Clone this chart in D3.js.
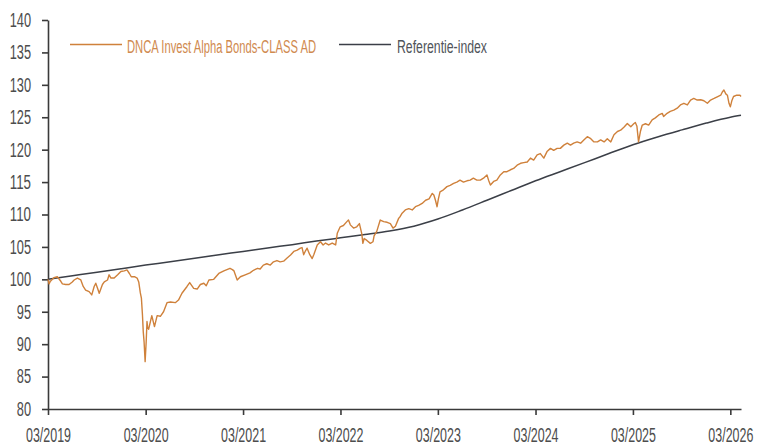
<!DOCTYPE html>
<html lang="nl">
<head>
<meta charset="utf-8">
<style>
  body { margin: 0; background: #fff; }
  svg text { font-family: "Liberation Sans Narrow", "Liberation Sans", Arial, sans-serif; }
</style>
</head>
<body>
<div id="chart"></div>
<script src="https://cdn.jsdelivr.net/npm/d3@7"></script>
<script>

var W = 757, H = 443;

var seriesNames = ["DNCA Invest Alpha Bonds-CLASS AD", "Referentie-index"];
var seriesColors = ["#cf813b", "#3b3f47"];

var yTicks = [80, 85, 90, 95, 100, 105, 110, 115, 120, 125, 130, 135, 140];
var xTickDates = ["2019-03-01", "2020-03-01", "2021-03-01", "2022-03-01",
                  "2023-03-01", "2024-03-01", "2025-03-01", "2026-03-01"];

// referentie-index, per kwartaal
var indexData = [
  ["2019-03-01", 100.0], ["2019-06-01", 100.55], ["2019-09-01", 101.1], ["2019-12-01", 101.65],
  ["2020-03-01", 102.2], ["2020-06-01", 102.7], ["2020-09-01", 103.25], ["2020-12-01", 103.8],
  ["2021-03-01", 104.3], ["2021-06-01", 104.85], ["2021-09-01", 105.35], ["2021-12-01", 105.9],
  ["2022-03-01", 106.4], ["2022-06-01", 106.9], ["2022-09-01", 107.45], ["2022-12-01", 108.2],
  ["2023-03-01", 109.3], ["2023-06-01", 110.7], ["2023-09-01", 112.2], ["2023-12-01", 113.7],
  ["2024-03-01", 115.2], ["2024-06-01", 116.6], ["2024-09-01", 118.0], ["2024-12-01", 119.4],
  ["2025-03-01", 120.75], ["2025-06-01", 121.95], ["2025-09-01", 123.05], ["2025-12-01", 124.1],
  ["2026-03-01", 125.0], ["2026-04-10", 125.3]
];

// fonds
var fundData = [
  ["2019-03-01",100.0],["2019-03-05",99.3],["2019-03-10",99.7],["2019-03-23",100.25],
  ["2019-04-05",100.4],["2019-04-18",99.7],["2019-04-24",99.3],["2019-05-06",99.2],
  ["2019-05-19",99.2],["2019-05-31",99.6],["2019-06-07",99.9],["2019-06-19",100.2],
  ["2019-07-02",99.9],["2019-07-11",98.9],["2019-07-20",98.35],["2019-08-02",98.1],
  ["2019-08-12",97.6],["2019-08-21",98.9],["2019-08-27",99.4],["2019-09-03",98.6],
  ["2019-09-09",97.85],["2019-09-21",99.2],["2019-09-28",99.6],["2019-10-10",99.9],
  ["2019-10-16",100.7],["2019-10-23",100.2],["2019-11-04",100.2],["2019-11-17",100.7],
  ["2019-11-29",101.2],["2019-12-12",101.3],["2019-12-22",101.45],["2019-12-31",100.9],
  ["2020-01-07",100.4],["2020-01-19",100.4],["2020-01-29",100.2],["2020-02-04",99.6],
  ["2020-02-10",97.9],["2020-02-14",97.1],["2020-02-18",94.5],["2020-02-21",91.9],
  ["2020-02-24",90.4],["2020-02-28",87.3],["2020-03-03",90.4],["2020-03-06",93.5],
  ["2020-03-08",92.7],["2020-03-12",92.3],["2020-03-24",94.4],["2020-04-03",92.7],
  ["2020-04-13",94.4],["2020-04-25",94.3],["2020-05-07",95.0],["2020-05-20",96.4],
  ["2020-06-02",96.5],["2020-06-20",96.4],["2020-07-02",96.8],["2020-07-15",97.85],
  ["2020-08-03",98.9],["2020-08-13",99.5],["2020-08-28",98.6],["2020-09-10",98.5],
  ["2020-09-22",99.2],["2020-10-05",99.4],["2020-10-14",99.0],["2020-10-24",99.9],
  ["2020-11-11",100.0],["2020-11-30",100.9],["2020-12-19",101.3],["2021-01-11",101.7],
  ["2021-01-20",101.5],["2021-01-26",101.3],["2021-02-07",99.9],["2021-02-19",100.4],
  ["2021-03-09",100.7],["2021-03-27",101.0],["2021-04-09",101.4],["2021-04-24",101.7],
  ["2021-05-04",101.6],["2021-05-16",102.2],["2021-05-29",102.4],["2021-06-11",102.2],
  ["2021-06-23",102.7],["2021-07-06",102.9],["2021-07-18",102.7],["2021-07-31",102.8],
  ["2021-08-13",103.3],["2021-08-26",103.75],["2021-09-07",104.3],["2021-09-20",104.5],
  ["2021-10-02",104.8],["2021-10-08",104.9],["2021-10-14",103.8],["2021-10-21",104.4],
  ["2021-10-27",104.8],["2021-11-06",103.8],["2021-11-15",103.2],["2021-11-21",103.8],
  ["2021-12-04",105.3],["2021-12-16",105.8],["2021-12-26",105.3],["2022-01-04",105.6],
  ["2022-01-16",105.3],["2022-01-29",105.6],["2022-02-11",105.3],["2022-02-17",107.1],
  ["2022-02-28",108.1],["2022-03-12",108.3],["2022-03-25",108.9],["2022-03-31",109.15],
  ["2022-04-07",108.4],["2022-04-19",107.9],["2022-05-01",108.1],["2022-05-11",108.6],
  ["2022-05-20",107.0],["2022-05-24",105.55],["2022-05-29",106.3],["2022-06-08",106.0],
  ["2022-06-21",105.55],["2022-07-01",105.8],["2022-07-05",106.7],["2022-07-15",107.4],
  ["2022-07-28",109.15],["2022-08-10",108.9],["2022-08-23",108.8],["2022-09-04",108.6],
  ["2022-09-14",107.9],["2022-09-23",108.2],["2022-10-05",109.4],["2022-10-11",109.7],
  ["2022-10-18",110.2],["2022-10-30",110.7],["2022-11-12",110.9],["2022-11-25",110.7],
  ["2022-12-07",111.2],["2022-12-19",111.4],["2023-01-01",111.7],["2023-01-14",112.2],
  ["2023-01-27",112.4],["2023-02-08",113.25],["2023-02-14",113.0],["2023-02-20",112.2],
  ["2023-02-26",111.2],["2023-03-03",112.4],["2023-03-09",113.5],["2023-03-22",113.8],
  ["2023-04-04",114.3],["2023-04-16",114.5],["2023-04-29",114.8],["2023-05-11",115.0],
  ["2023-05-23",115.3],["2023-06-05",115.0],["2023-06-18",115.2],["2023-06-30",115.3],
  ["2023-07-12",115.6],["2023-07-25",115.3],["2023-08-07",115.3],["2023-08-19",115.6],
  ["2023-09-01",116.1],["2023-09-07",115.3],["2023-09-14",114.55],["2023-09-26",115.1],
  ["2023-10-08",115.3],["2023-10-21",116.1],["2023-11-03",116.6],["2023-11-15",116.6],
  ["2023-11-28",116.9],["2023-12-10",117.1],["2023-12-23",117.6],["2024-01-05",117.9],
  ["2024-01-17",118.0],["2024-01-30",118.1],["2024-02-11",118.7],["2024-02-23",118.4],
  ["2024-03-07",119.2],["2024-03-19",119.4],["2024-04-01",118.7],["2024-04-13",119.7],
  ["2024-04-26",120.2],["2024-05-08",119.9],["2024-05-21",120.2],["2024-06-02",120.2],
  ["2024-06-15",120.7],["2024-06-28",121.0],["2024-07-10",120.7],["2024-07-22",121.0],
  ["2024-08-04",121.2],["2024-08-17",121.0],["2024-08-29",121.5],["2024-09-11",122.0],
  ["2024-09-24",121.7],["2024-10-06",121.2],["2024-10-19",121.2],["2024-10-31",121.5],
  ["2024-11-13",121.2],["2024-11-25",121.7],["2024-12-08",121.2],["2024-12-20",122.3],
  ["2025-01-02",122.8],["2025-01-14",123.0],["2025-01-27",123.5],["2025-02-08",124.05],
  ["2025-02-21",123.55],["2025-03-04",124.0],["2025-03-10",124.2],["2025-03-16",123.6],
  ["2025-03-22",121.2],["2025-03-29",122.8],["2025-04-05",123.8],["2025-04-17",124.0],
  ["2025-04-29",123.8],["2025-05-12",124.6],["2025-05-24",124.9],["2025-06-06",125.35],
  ["2025-06-19",125.6],["2025-06-24",125.1],["2025-07-07",125.6],["2025-07-19",125.9],
  ["2025-08-01",126.1],["2025-08-14",126.4],["2025-08-26",126.9],["2025-09-08",127.15],
  ["2025-09-21",126.9],["2025-10-03",127.65],["2025-10-15",127.9],["2025-10-28",127.65],
  ["2025-11-10",127.7],["2025-11-22",127.55],["2025-12-05",127.15],["2025-12-17",127.65],
  ["2025-12-30",127.9],["2026-01-11",128.15],["2026-01-24",128.4],["2026-01-30",128.9],
  ["2026-02-05",129.2],["2026-02-12",128.6],["2026-02-18",128.4],["2026-02-24",127.15],
  ["2026-03-01",126.6],["2026-03-07",127.6],["2026-03-13",128.2],["2026-03-25",128.4],
  ["2026-04-06",128.4],["2026-04-10",128.2]
];

var parse = d3.timeParse("%Y-%m-%d");

var x = d3.scaleTime()
  .domain([parse("2019-03-01"), parse("2026-04-10")])
  .range([48, 741]);

var y = d3.scaleLinear()
  .domain([80, 140])
  .range([409, 20]);

var svg = d3.select("#chart").append("svg")
  .attr("width", W)
  .attr("height", H);

var axisColor = "#3a3a3a", labelColor = "#4d4d4d";

// y-as
var gy = svg.append("g")
  .attr("transform", "translate(48,0)")
  .call(d3.axisLeft(y).tickValues(yTicks).tickSize(6).tickSizeOuter(0).tickPadding(11));

gy.selectAll("text")
  .attr("fill", labelColor)
  .style("font-size", "20px")
  .attr("textLength", function(d){ return String(d).length * 7.1; })
  .attr("lengthAdjust", "spacingAndGlyphs");

// x-as
var gx = svg.append("g")
  .attr("transform", "translate(0,409)")
  .call(d3.axisBottom(x).tickValues(xTickDates.map(parse)).tickFormat(d3.timeFormat("%m/%Y"))
        .tickSize(6).tickSizeOuter(0).tickPadding(13));

gx.selectAll("text")
  .attr("fill", labelColor)
  .style("font-size", "20px")
  .attr("textLength", 45)
  .attr("lengthAdjust", "spacingAndGlyphs");

svg.selectAll(".domain, .tick line")
  .attr("stroke", axisColor)
  .attr("stroke-width", 1.6);

var line = d3.line()
  .x(function(d){ return x(parse(d[0])); })
  .y(function(d){ return y(d[1]); });

svg.append("path")
  .datum(indexData)
  .attr("fill", "none")
  .attr("stroke", seriesColors[1])
  .attr("stroke-width", 1.5)
  .attr("d", line.curve(d3.curveMonotoneX));

svg.append("path")
  .datum(fundData)
  .attr("fill", "none")
  .attr("stroke", seriesColors[0])
  .attr("stroke-width", 1.4)
  .attr("stroke-linejoin", "round")
  .attr("d", line.curve(d3.curveLinear));

// legenda
var legend = [
  {x: 70, len: 52, tx: 127, tw: 189, color: seriesColors[0], text: "#d08a4f"},
  {x: 339, len: 52, tx: 397, tw: 90, color: seriesColors[1], text: "#50545a"}
];

legend.forEach(function(l, i){
  svg.append("line")
    .attr("x1", l.x).attr("x2", l.x + l.len)
    .attr("y1", 44.5).attr("y2", 44.5)
    .attr("stroke", l.color)
    .attr("stroke-width", 1.5);
  svg.append("text")
    .attr("x", l.tx).attr("y", 52.5)
    .attr("fill", l.text)
    .style("font-size", "18px")
    .attr("textLength", l.tw)
    .attr("lengthAdjust", "spacingAndGlyphs")
    .text(seriesNames[i]);
});

</script>
</body>
</html>
